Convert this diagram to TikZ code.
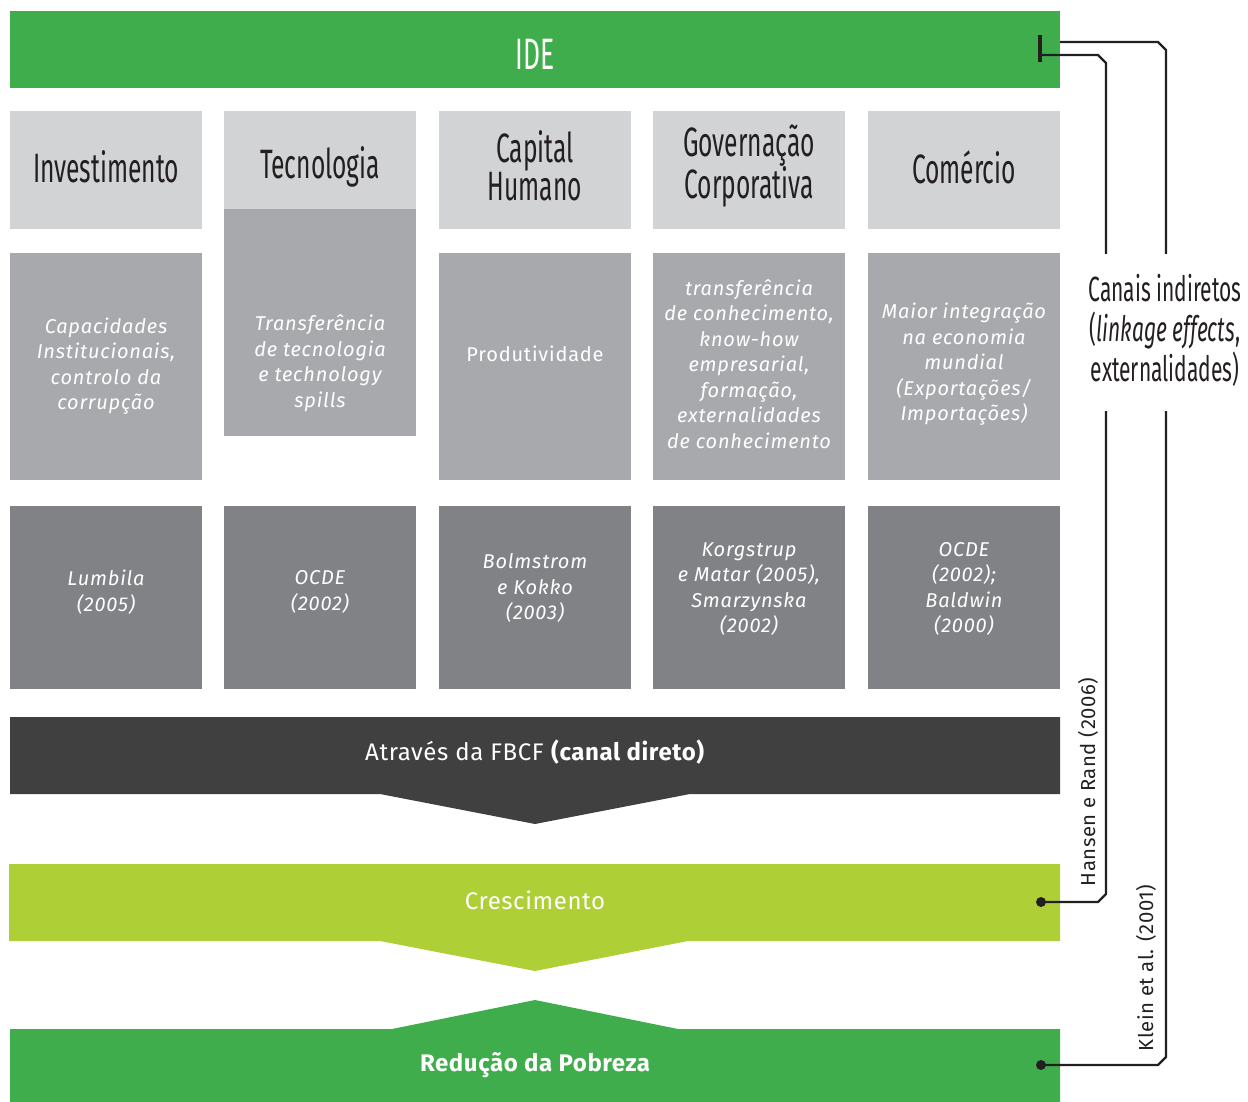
\documentclass[tikz,border=0pt]{standalone}
\usepackage{fontspec}
\setmainfont{Fira Sans}
\newfontfamily\cond[FakeStretch=0.6]{Fira Sans}
\newfontfamily\bodyfont[LetterSpace=4]{Fira Sans}
\newfontfamily\barfont[LetterSpace=2.5]{Fira Sans}
\definecolor{idegreen}{HTML}{40AD4C}
\definecolor{lime}{HTML}{AFCF36}
\definecolor{lgray}{HTML}{D1D3D4}
\definecolor{mgray}{HTML}{A7A9AC}
\definecolor{dgray}{HTML}{808285}
\definecolor{darkbar}{HTML}{404041}
\definecolor{ink}{HTML}{231F20}
\begin{document}
\begin{tikzpicture}[x=1pt,y=-1pt,
  cell/.style={inner sep=0pt, minimum width=192pt},
  hdr/.style={cell, fill=lgray, minimum height=118pt},
  hdrtext/.style={font=\cond\fontsize{41}{35}\selectfont, text=ink, align=center, inner sep=0pt},
  midcell/.style={cell, fill=mgray, minimum height=227pt},
  botcell/.style={cell, fill=dgray, minimum height=183pt},
  bodytext/.style={font=\bodyfont\fontsize{20}{25.5}\selectfont\itshape, text=white, align=center, inner sep=0pt},
  bartext/.style={font=\barfont\fontsize{24}{28}\selectfont, text=white, inner sep=0pt},
  conn/.style={draw=ink, line width=2.2pt},
  dot/.style={circle, fill=ink, inner sep=0pt, minimum size=10pt},
  ref/.style={font=\barfont\fontsize{20.3}{24}\selectfont, text=ink, rotate=90, inner sep=0pt}
]
\useasboundingbox (0,0) rectangle (1248,1102);
% IDE bar
\node[fill=idegreen, inner sep=0pt, minimum width=1050pt, minimum height=77pt] (ide) at (535,49.5) {};
\node[font=\cond\fontsize{44}{44}\selectfont, text=white, inner sep=0pt] (idet) at (535,54) {IDE};
% headers
\node[hdr] (h1) at (106,170) {};
\node[hdr] (h2) at (320,170) {};
\node[hdr] (h3) at (535,170) {};
\node[hdr] (h4) at (749,170) {};
\node[hdr] (h5) at (964,170) {};
\node[hdrtext] (ht1) at (106,167) {Investimento};
\node[hdrtext] (ht2) at (320,167) {Tecnologia};
\node[hdrtext] (ht3) at (535,166) {Capital\\Humano};
\node[hdrtext] (ht4) at (749,166) {Governação\\Corporativa};
\node[hdrtext] (ht5) at (964,167) {Comércio};
% middle row
\node[midcell] (m1) at (106,366.5) {};
\node[midcell] (m2) at (320,322.5) {};
\node[midcell] (m3) at (535,366.5) {};
\node[midcell] (m4) at (749,366.5) {};
\node[midcell] (m5) at (964,366.5) {};
\node[bodytext] (t1) at (106,366) {Capacidades\\Institucionais,\\controlo da\\corrupção};
\node[bodytext] (t2) at (320,363) {Transferência\\de tecnologia\\e technology\\spills};
\node[bodytext, font=\bodyfont\fontsize{20}{25.5}\selectfont] (t3) at (535,354) {Produtividade};
\node[bodytext] (t4) at (749,364) {transferência\\de conhecimento,\\know-how\\empresarial,\\formação,\\externalidades\\de conhecimento};
\node[bodytext] (t5) at (964,364.5) {Maior integração\\na economia\\mundial\\(Exportações/\\Importações)};
% bottom row
\node[botcell] (b1) at (106,597.5) {};
\node[botcell] (b2) at (320,597.5) {};
\node[botcell] (b3) at (535,597.5) {};
\node[botcell] (b4) at (749,597.5) {};
\node[botcell] (b5) at (964,597.5) {};
\node[bodytext] (r1) at (106,592) {Lumbila\\(2005)};
\node[bodytext] (r2) at (320,592) {OCDE\\(2002)};
\node[bodytext] (r3) at (535,588) {Bolmstrom\\e Kokko\\(2003)};
\node[bodytext] (r4) at (749,589) {Korgstrup\\e Matar (2005),\\Smarzynska\\(2002)};
\node[bodytext] (r5) at (964,589) {OCDE\\(2002);\\Baldwin\\(2000)};
% chevron bars
\fill[darkbar] (10,717) -- (1060,717) -- (1060,794) -- (690,794) -- (535,824) -- (380,794) -- (10,794) -- cycle;
\node[bartext] (fbcf) at (535,752) {Através da FBCF \textbf{(canal direto)}};
\fill[lime] (9,864) -- (1060,864) -- (1060,941) -- (688,941) -- (535,971) -- (380,941) -- (9,941) -- cycle;
\node[bartext] (cres) at (535,900) {Crescimento};
\fill[idegreen] (10,1029) -- (392,1029) -- (535,1000) -- (678,1029) -- (1060,1029) -- (1060,1102) -- (10,1102) -- cycle;
\node[bartext, font=\barfont\fontsize{24}{28}\selectfont\bfseries] (pob) at (535,1065) {Redução da Pobreza};
% indirect channels
\node[font=\cond\fontsize{35}{40}\selectfont, text=ink, align=center, inner sep=0pt] (canais) at (1165,330)
  {Canais indiretos\\(\textit{linkage effects},\\externalidades)};
\coordinate (ideA) at (1060,42);
\coordinate (ideB) at (1040,55);
\coordinate (cresE) at (1041,902);
\coordinate (pobE) at (1041,1065);
\draw[draw=ink, line width=4pt] (1040,35) -- (1040,62);
\draw[conn] (ideA) -- (1158,42) -- (1166,50) -- (1166,254);
\draw[conn] (1166,411) -- (1166,1057) -- (1158,1065) -- (pobE);
\draw[conn] (ideB) -- (1098,55) -- (1106,63) -- (1106,254);
\draw[conn] (1106,411) -- (1106,894) -- (1098,902) -- (cresE);
\node[dot] (d1) at (cresE) {};
\node[dot] (d2) at (pobE) {};
\node[ref] (hansen) at (1088,782) {Hansen e Rand (2006)};
\node[ref] (klein) at (1146,968) {Klein et al. (2001)};
\end{tikzpicture}
\end{document}
